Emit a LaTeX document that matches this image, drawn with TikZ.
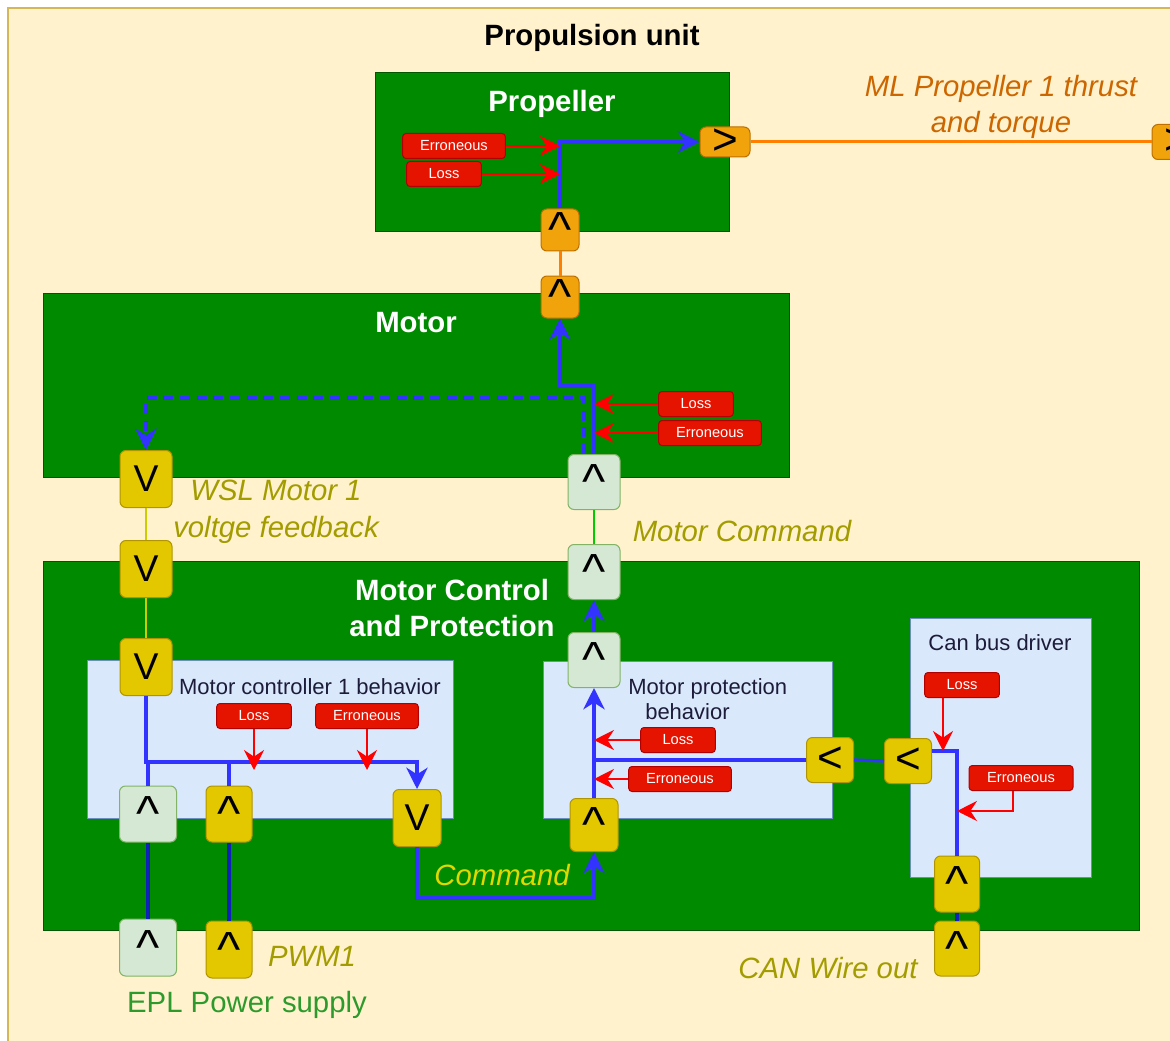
\documentclass[tikz,border=0pt]{standalone}
\usepackage{fontspec}
\setmainfont{Liberation Sans}
\usepackage{tikz}
\usetikzlibrary{positioning,arrows.meta}

\definecolor{unitfill}{HTML}{FFF2CC}
\definecolor{unitline}{HTML}{D6B656}
\definecolor{blockgreen}{HTML}{008A00}
\definecolor{blockline}{HTML}{005700}
\definecolor{behavfill}{HTML}{DAE8FC}
\definecolor{behavline}{HTML}{6C8EBF}
\definecolor{portorange}{HTML}{F0A30A}
\definecolor{portorangeline}{HTML}{BD7000}
\definecolor{portyellow}{HTML}{E3C800}
\definecolor{portyellowline}{HTML}{B09500}
\definecolor{portgreen}{HTML}{D5E8D4}
\definecolor{portgreenline}{HTML}{82B366}
\definecolor{faultfill}{HTML}{E51400}
\definecolor{faultline}{HTML}{B20000}
\definecolor{faultred}{HTML}{FF0000}
\definecolor{flowblue}{HTML}{3333FF}
\definecolor{wirenavy}{HTML}{0F22B8}
\definecolor{extorange}{HTML}{FF8000}
\definecolor{fbyellow}{HTML}{CCCC00}
\definecolor{cmdgreen}{HTML}{00CC00}
\definecolor{labelolive}{HTML}{A39C00}
\definecolor{labelorange}{HTML}{CC6600}
\definecolor{labelyellow}{HTML}{E0D800}
\definecolor{labelgreen}{HTML}{2D9A2D}
\definecolor{boxtext}{HTML}{1C1C3A}

\begin{document}
\begin{tikzpicture}[x=0.75pt,y=-0.75pt,
	block node/.style={rectangle, fill=blockgreen, draw=blockline, line width=0.75pt, inner sep=0pt},
	behav node/.style={rectangle, fill=behavfill, draw=behavline, line width=0.75pt, inner sep=0pt},
	port node/.style={rectangle, rounded corners=4.5pt, line width=0.75pt, inner sep=0pt, font=\fontsize{28}{28}\selectfont},
	caret/.style={font=\fontsize{37}{37}\selectfont},
	side/.style={font=\fontsize{33}{33}\selectfont},
	orange port/.style={port node, fill=portorange, draw=portorangeline, minimum width=28.5pt, minimum height=31.5pt},
	yellow port/.style={port node, fill=portyellow, draw=portyellowline, minimum width=36pt, minimum height=42.75pt},
	green port/.style={port node, fill=portgreen, draw=portgreenline, minimum width=39pt, minimum height=41.25pt},
	fault node/.style={rectangle, rounded corners=2.5pt, fill=faultfill, draw=faultline, line width=0.75pt,
		text=white, font=\fontsize{11}{11}\selectfont, minimum width=56pt, minimum height=18.75pt, inner sep=0pt},
	title node/.style={text=white, font=\bfseries\fontsize{22}{27}\selectfont, align=center},
	box label/.style={text=boxtext, font=\fontsize{16.5}{19}\selectfont, inner sep=0pt},
	flow label/.style={font=\itshape\fontsize{22}{27.5}\selectfont, align=center, inner sep=0pt},
	flow/.style={draw=flowblue, line width=2.4pt, -{Stealth[length=16pt,width=16pt,inset=5pt]}},
	wire/.style={draw=flowblue, line width=2.4pt},
	bus wire/.style={draw=wirenavy, line width=2.4pt},
	ext/.style={draw=extorange, line width=2.25pt},
	fb/.style={draw=fbyellow, line width=1.5pt},
	cmd/.style={draw=cmdgreen, line width=1.5pt},
	fault/.style={draw=faultred, line width=1.6pt, -{Stealth[length=15pt,width=15pt,inset=5pt]}}]

	\useasboundingbox (0,0) rectangle (1170,1041);
	\clip (0,0) rectangle (1170,1041);
	\fill[white] (0,0) rectangle (1170,1041);
	\draw[fill=unitfill, draw=unitline, line width=1.2pt] (8,8) rectangle (1190,1060);
	\node[font=\bfseries\fontsize{22}{26}\selectfont](U) at (592,38){Propulsion unit};

	% propeller
	\node[block node, minimum width=265.5pt, minimum height=119.25pt](P) at (552,152.5){};
		\node[title node](PT) at (552,104){Propeller};
		\node[fault node, minimum width=77pt](PErr) at (454,146){Erroneous};
		\node[fault node](PLoss) at (444,174){Loss};
	\node[orange port, caret](PIn) at (560,230){\textasciicircum};
	\node[orange port, side, minimum width=37.5pt, minimum height=22.5pt](POut) at (725,142){>};
	\node[orange port, side, minimum width=37.5pt, minimum height=26.25pt](PExt) at (1177,142){>};
		\node[flow label, text=labelorange](PLab) at (1001,107){ML Propeller 1 thrust\\and torque};

	% motor
	\node[block node, minimum width=559.5pt, minimum height=138pt](M) at (416,385){};
		\node[title node](MT) at (416,323){Motor};
	\node[orange port, caret](MIn)[below = 18pt of PIn]{\textasciicircum};
	\node[yellow port, minimum width=39pt](MFb) at (146,479){V};
	\node[green port, caret](MOut) at (594,482){\textasciicircum};
		\node[fault node](MLoss) at (696,404){Loss};
		\node[fault node, minimum width=77pt](MErr) at (710,433){Erroneous};
		\node[flow label, text=labelolive](MFbLab) at (276,512){WSL Motor 1\\voltge feedback};

	% motor control and protection
	\node[block node, minimum width=822pt, minimum height=276.75pt](C) at (591,745.5){};
		\node[title node](CT) at (452,608){Motor Control\\and Protection};
	\node[yellow port, minimum width=39pt](CFb)[below = 24pt of MFb]{V};
	\node[green port, caret](CCmd)[below = 25.5pt of MOut]{\textasciicircum};
		\node[flow label, text=labelolive](CLab) at (742,531){Motor Command};

	% controller behavior
	\node[behav node, minimum width=274.5pt, minimum height=118.5pt](K) at (270,739){};
		\node[box label](KT) at (310,687){Motor controller 1 behavior};
	\node[yellow port, minimum width=39pt](KFb)[below = 30pt of CFb]{V};
	\node[green port, caret, minimum width=42.75pt, minimum height=42pt](KPow) at (148,814){\textasciicircum};
	\node[yellow port, caret, minimum width=34.5pt, minimum height=42pt](KPwm) at (229,814){\textasciicircum};
	\node[yellow port](KCmd) at (417,818){V};
		\node[fault node](KLoss) at (254,716){Loss};
		\node[fault node, minimum width=77pt](KErr) at (367,716){Erroneous};
	\node[green port, caret, minimum width=42.75pt, minimum height=42.75pt](EPow)[below = 57pt of KPow]{\textasciicircum};
	\node[yellow port, caret, minimum width=34.5pt, minimum height=42.75pt](EPwm)[below = 58.5pt of KPwm]{\textasciicircum};
		\node[flow label, text=labelolive](EPwmLab) at (312,956){PWM1};
		\node[flow label, font=\fontsize{22}{27}\selectfont, text=labelgreen](EPowLab) at (247,1005){EPL Power supply};

	% protection behavior
	\node[behav node, minimum width=216.75pt, minimum height=117.75pt](R) at (687.5,739.5){};
		\node[box label, align=left, anchor=west](RT) at (628,699){Motor protection\\\hspace*{12.75pt}behavior};
	\node[green port, caret](ROut) at (594,660){\textasciicircum};
	\node[yellow port, caret, minimum height=39.75pt](RIn) at (594,825){\textasciicircum};
	\node[yellow port, side, minimum width=35.25pt, minimum height=33.75pt](RCan) at (830,760){<};
		\node[fault node](RLoss) at (678,740){Loss};
		\node[fault node, minimum width=77pt](RErr) at (680,779){Erroneous};
		\node[flow label, text=labelyellow](RLab) at (502,875){Command};

	% can bus driver
	\node[behav node, minimum width=135.75pt, minimum height=194.25pt](B) at (1000.5,747.5){};
		\node[box label](BT) at (1000,643){Can bus driver};
	\node[yellow port, side, minimum width=35.25pt, minimum height=33.75pt](BOut) at (908,761){<};
	\node[yellow port, caret, minimum width=33.75pt, minimum height=42pt](BIn) at (957,884){\textasciicircum};
	\node[yellow port, caret, minimum width=33.75pt, minimum height=41.25pt](BWire)[below = 6pt of BIn]{\textasciicircum};
		\node[fault node](BLoss) at (962,685){Loss};
		\node[fault node, minimum width=78pt](BErr) at (1021,778){Erroneous};
		\node[flow label, text=labelolive](BLab) at (828,968){CAN Wire out};

	\coordinate (MBend) at (594,386);
	\coordinate (MDash) at (146,398);
	\coordinate (KBus) at (146,762);
	\coordinate (KRet) at (417,898);
	\coordinate (BBend) at (957,751);
	\coordinate (BErrIn) at (957,811);

	% propeller flows
	\draw[flow] (PIn.north) |- (POut.west);
	\draw[fault] (PErr.east) -- (PErr.east -| PIn.north);
	\draw[fault] (PLoss.east) -- (PLoss.east -| PIn.north);
	\draw[ext] (POut.east) -- (PExt.west);
	\draw[ext] (PIn.south) -- (MIn.north);

	% motor flows
	\draw[flow] (MOut.north) -- (MBend) -| (MIn.south);
	\draw[flow, dash pattern=on 7.5pt off 5pt] ([xshift=-7.5pt]MOut.north) |- (MDash) -- (MFb.north);
	\draw[fault] (MLoss.west) -- (MLoss.west -| MOut.north);
	\draw[fault] (MErr.west) -- (MErr.west -| MOut.north);
	\draw[fb] (MFb.south) -- (CFb.north);
	\draw[cmd] (MOut.south) -- (CCmd.north);

	% controller flows
	\draw[fb] (CFb.south) -- (KFb.north);
	\draw[flow] (KFb.south) -- (KBus) -| (KCmd.north);
	\draw[wire] (KBus -| KPow.north) -- (KPow.north);
	\draw[wire] (KBus -| KPwm.north) -- (KPwm.north);
	\draw[fault, shorten >=-6pt] (KLoss.south) -- (KLoss.south |- KBus);
	\draw[fault, shorten >=-6pt] (KErr.south) -- (KErr.south |- KBus);
	\draw[bus wire] (KPow.south) -- (EPow.north);
	\draw[bus wire] (KPwm.south) -- (EPwm.north);
	\draw[flow] (KCmd.south) -- (KRet) -| (RIn.south);

	% protection flows
	\draw[flow] (RIn.north) -- (ROut.south);
	\draw[flow] (ROut.north) -- (CCmd.south);
	\draw[wire] (RCan.west) -- (RCan.west -| RIn.north);
	\draw[fault] (RLoss.west) -- (RLoss.west -| RIn.north);
	\draw[fault] (RErr.west) -- (RErr.west -| RIn.north);

	% can bus flows
	\draw[wire] (BOut.west) -- (RCan.east);
	\draw[wire] (BOut.east |- BBend) -- (BBend) -- (BIn.north);
	\draw[fault] ([xshift=-14.25pt]BLoss.south) -- ([xshift=-14.25pt]BLoss.south |- BBend);
	\draw[fault] ([xshift=-6pt]BErr.south) |- (BErrIn);
	\draw[bus wire] (BIn.south) -- (BWire.north);
\end{tikzpicture}
\end{document}
